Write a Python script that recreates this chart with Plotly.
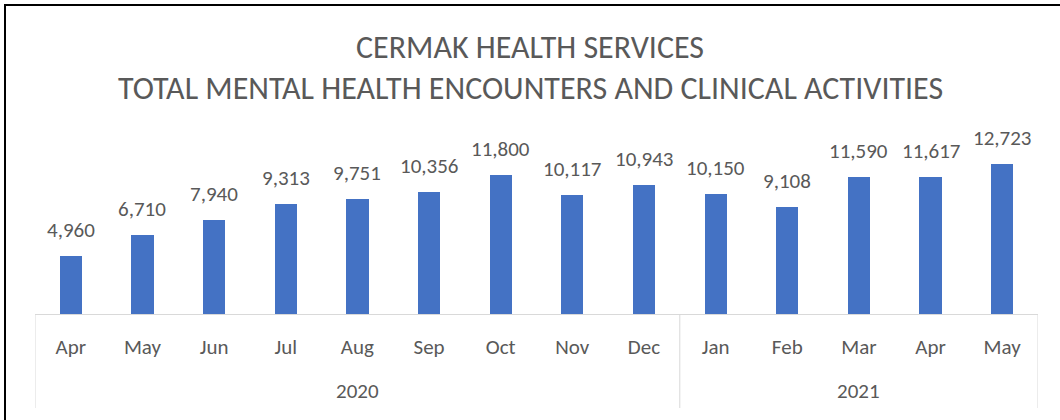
import plotly.graph_objects as go

years = ["2020"] * 9 + ["2021"] * 5
months = ["Apr", "May", "Jun", "Jul", "Aug", "Sep", "Oct", "Nov", "Dec",
          "Jan", "Feb", "Mar", "Apr", "May"]
encounters = [4960, 6710, 7940, 9313, 9751, 10356, 11800, 10117, 10943,
              10150, 9108, 11590, 11617, 12723]

title_lines = ["CERMAK HEALTH SERVICES",
               "TOTAL MENTAL HEALTH ENCOUNTERS AND CLINICAL ACTIVITIES"]

FONT = "Calibri, Carlito, Lato, sans-serif"
GREY = "#595959"
BLUE = "#4472C4"
LINE = "#D9D9D9"

W, H = 1060, 420
L, R, T, B = 35, 22, 149, 106
pw, ph = W - L - R, H - T - B


def px(x):
    return (x - L) / pw


def py(y):
    return (H - B - y) / ph


cats = [f"{m} {y}" for m, y in zip(months, years)]

fig = go.Figure()
fig.add_trace(go.Bar(
    x=cats, y=encounters,
    marker=dict(color=BLUE, line=dict(width=0)),
    width=0.31,
    hoverinfo="skip",
))

annotations = []
for c, v in zip(cats, encounters):
    annotations.append(dict(
        x=c, y=v, xref="x", yref="y",
        text=f"{v:,}", showarrow=False,
        yanchor="middle", yshift=26,
        font=dict(family=FONT, size=21, color=GREY),
    ))

# year group labels centred under their months
year_names = []
for y in years:
    if y not in year_names:
        year_names.append(y)
year_bounds = []
for yname in year_names:
    idx = [i for i, y in enumerate(years) if y == yname]
    year_bounds.append((idx[0] - 0.5, idx[-1] + 0.5))
    annotations.append(dict(
        x=(idx[0] + idx[-1]) / 2, y=py(391), xref="x", yref="paper",
        text=yname, showarrow=False, xanchor="center", yanchor="middle",
        font=dict(family=FONT, size=21, color=GREY),
    ))

# title lines
for line, yc in zip(title_lines, [47, 88]):
    annotations.append(dict(
        x=px(W / 2), y=py(yc), xref="paper", yref="paper",
        text=line, showarrow=False, xanchor="center", yanchor="middle",
        font=dict(family=FONT, size=32, color=GREY),
    ))

shapes = [
    dict(type="line", xref="paper", yref="paper",
         x0=px(5), x1=px(5), y0=py(5), y1=py(H),
         line=dict(color="black", width=2)),
    dict(type="line", xref="paper", yref="paper",
         x0=px(4), x1=px(W), y0=py(5), y1=py(5),
         line=dict(color="black", width=2)),
]
edges = sorted(set(b for pair in year_bounds for b in pair))
for e in edges:
    shapes.append(dict(type="line", xref="x", yref="paper",
                       x0=e, x1=e, y0=0, y1=py(408),
                       line=dict(color=LINE, width=1)))

fig.update_layout(
    width=W, height=H,
    margin=dict(l=L, r=R, t=T, b=B, pad=0, autoexpand=False),
    paper_bgcolor="white", plot_bgcolor="white",
    showlegend=False,
    bargap=0,
    hovermode=False,
    annotations=annotations,
    shapes=shapes,
    xaxis=dict(
        type="category",
        range=[-0.5, len(cats) - 0.5],
        tickmode="array", tickvals=cats, ticktext=months,
        showline=True, linecolor=LINE, linewidth=1,
        tickfont=dict(family=FONT, size=21, color=GREY),
        ticks="", showgrid=False, ticklabelstandoff=14,
        automargin=False,
    ),
    yaxis=dict(range=[0, 14000], visible=False, showgrid=False,
               zeroline=False, automargin=False),
)

fig.write_html("out.html",
               config={"displayModeBar": False, "staticPlot": True},
               post_script="document.body.style.margin='0';"
                           "document.body.style.overflow='hidden';"
                           "document.documentElement.style.overflow='hidden';")
